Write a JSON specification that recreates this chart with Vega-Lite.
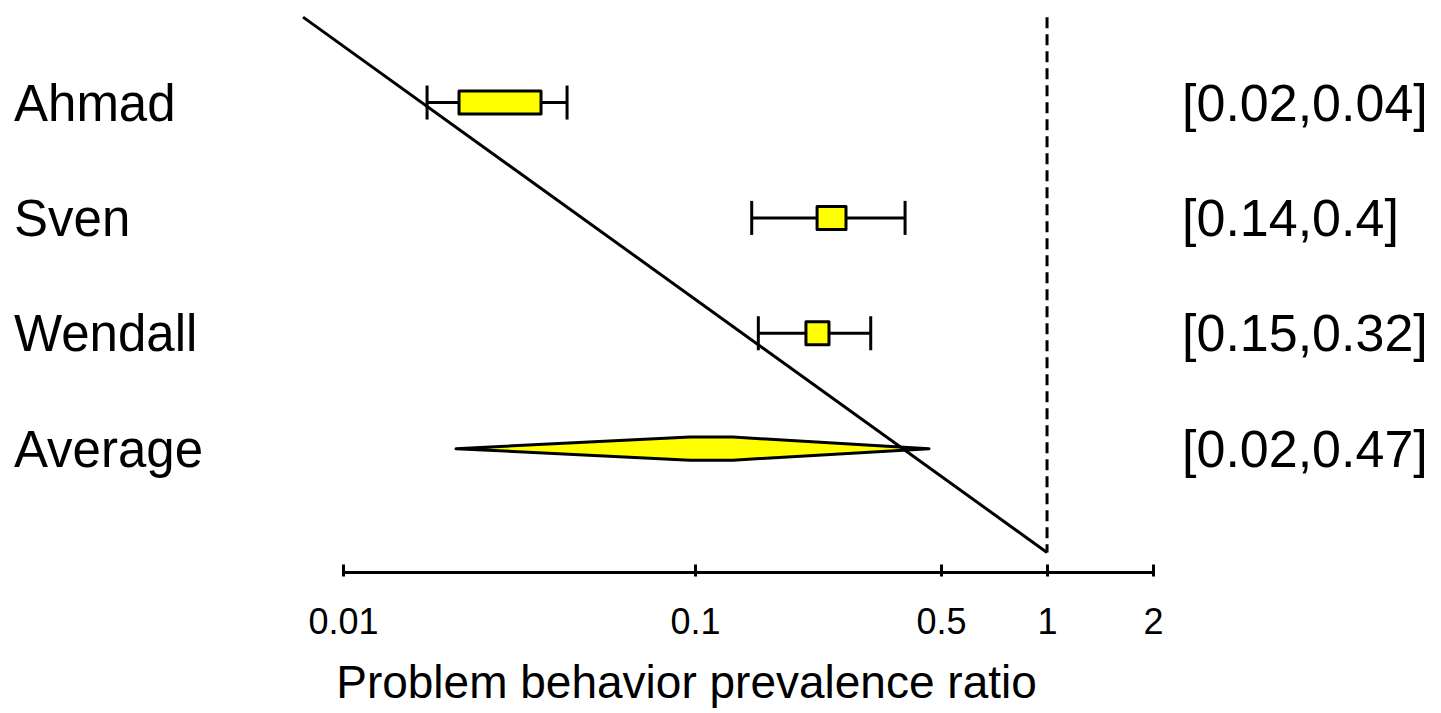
{
  "$schema": "https://vega.github.io/schema/vega-lite/v6.json",
  "width": 810,
  "height": 558,
  "autosize": {"type": "none"},
  "padding": {"left": 343, "top": 11, "right": 288, "bottom": 144},
  "background": "white",
  "config": {"view": {"stroke": null}, "font": "Liberation Sans"},
  "datasets": {
    "rows": [
      {"name": "Ahmad", "row": 1, "lo": 0.01733, "hi": 0.0433, "blo": 0.02136, "bhi": 0.03652, "ci": "[0.02,0.04]"},
      {"name": "Sven", "row": 2, "lo": 0.1449, "hi": 0.3951, "blo": 0.2222, "bhi": 0.2685, "ci": "[0.14,0.4]"},
      {"name": "Wendall", "row": 3, "lo": 0.1513, "hi": 0.3156, "blo": 0.2066, "bhi": 0.2402, "ci": "[0.15,0.32]"},
      {"name": "Average", "row": 4, "lo": null, "hi": null, "blo": null, "bhi": null, "ci": "[0.02,0.47]"}
    ],
    "diamond": [
      {"x": 0.02094, "ylo": 4, "yhi": 4},
      {"x": 0.0968, "ylo": 3.9, "yhi": 4.1},
      {"x": 0.1282, "ylo": 3.9, "yhi": 4.1},
      {"x": 0.4622, "ylo": 4, "yhi": 4}
    ],
    "diagonal": [
      {"x": 0.0077, "row": 0.26},
      {"x": 1, "row": 4.9}
    ],
    "refline": [
      {"x": 1, "top": 0.26, "bottom": 4.9}
    ]
  },
  "layer": [
    {
      "data": {"name": "refline"},
      "mark": {"type": "rule", "strokeDash": [11, 6], "strokeWidth": 3, "color": "black"},
      "encoding": {
        "x": {"field": "x", "type": "quantitative", "scale": {"type": "log", "domain": [0.01, 2], "nice": false}, "axis": null},
        "y": {"field": "top", "type": "quantitative", "scale": {"domain": [0.25, 5], "reverse": true, "nice": false, "zero": false}, "axis": null},
        "y2": {"field": "bottom"}
      }
    },
    {
      "data": {"name": "rows"},
      "mark": {"type": "rule", "strokeWidth": 3, "color": "black"},
      "encoding": {
        "x": {
          "field": "lo", "type": "quantitative",
          "scale": {"type": "log", "domain": [0.01, 2], "nice": false},
          "axis": {
            "orient": "bottom",
            "values": [0.01, 0.1, 0.5, 1, 2], "format": "~g",
            "domain": true, "domainColor": "black", "domainWidth": 3.2,
            "ticks": false, "grid": false, "offset": 3,
            "labelFont": "Liberation Sans", "labelFontSize": 36, "labelColor": "black",
            "labelPadding": 33, "labelFlush": false, "labelOverlap": false,
            "title": "Problem behavior prevalence ratio",
            "titleFont": "Liberation Sans", "titleFontSize": 46, "titleFontWeight": "normal",
            "titleColor": "black", "titleBaseline": "alphabetic", "titleAlign": "center",
            "titleX": 343, "titleY": 125
          }
        },
        "x2": {"field": "hi"},
        "y": {"field": "row", "type": "quantitative", "scale": {"domain": [0.25, 5], "reverse": true, "nice": false, "zero": false}, "axis": null}
      }
    },
    {
      "data": {"name": "rows"},
      "mark": {"type": "tick", "orient": "vertical", "size": 34, "thickness": 3, "color": "black", "opacity": 1},
      "encoding": {
        "x": {
          "field": "lo", "type": "quantitative",
          "scale": {"type": "log", "domain": [0.01, 2], "nice": false},
          "axis": {
            "orient": "bottom",
            "values": [0.01, 0.1, 0.5, 1, 2], "domain": false, "labels": false,
            "ticks": true, "tickSize": 12, "tickWidth": 3, "tickColor": "black",
            "offset": -5, "grid": false, "title": null
          }
        },
        "y": {"field": "row", "type": "quantitative", "axis": null}
      }
    },
    {
      "data": {"name": "rows"},
      "mark": {"type": "tick", "orient": "vertical", "size": 34, "thickness": 3, "color": "black", "opacity": 1},
      "encoding": {
        "x": {"field": "hi", "type": "quantitative", "axis": null},
        "y": {"field": "row", "type": "quantitative", "axis": null}
      }
    },
    {
      "data": {"name": "rows"},
      "mark": {"type": "bar", "orient": "horizontal", "size": 23, "fill": "#FFFF00", "stroke": "black", "strokeWidth": 3, "strokeJoin": "round", "opacity": 1},
      "encoding": {
        "x": {"field": "blo", "type": "quantitative", "axis": null},
        "x2": {"field": "bhi"},
        "y": {"field": "row", "type": "quantitative", "axis": null}
      }
    },
    {
      "data": {"name": "diamond"},
      "mark": {"type": "area", "orient": "vertical", "fill": "#FFFF00", "stroke": "black", "strokeWidth": 3, "strokeJoin": "round", "opacity": 1, "fillOpacity": 1},
      "encoding": {
        "x": {"field": "x", "type": "quantitative", "axis": null},
        "y": {"field": "ylo", "type": "quantitative", "axis": null},
        "y2": {"field": "yhi"}
      }
    },
    {
      "data": {"name": "diagonal"},
      "mark": {"type": "line", "color": "black", "strokeWidth": 3},
      "encoding": {
        "x": {"field": "x", "type": "quantitative", "axis": null},
        "y": {"field": "row", "type": "quantitative", "axis": null}
      }
    },
    {
      "data": {"name": "rows"},
      "mark": {"type": "text", "align": "left", "baseline": "alphabetic", "dy": 18, "fontSize": 51, "font": "Liberation Sans", "color": "black"},
      "encoding": {
        "x": {"datum": 0.0011625, "type": "quantitative", "axis": null},
        "y": {"field": "row", "type": "quantitative", "axis": null},
        "text": {"field": "name"}
      }
    },
    {
      "data": {"name": "rows"},
      "mark": {"type": "text", "align": "left", "baseline": "alphabetic", "dy": 18, "fontSize": 52, "font": "Liberation Sans", "color": "black"},
      "encoding": {
        "x": {"datum": 2.418, "type": "quantitative", "axis": null},
        "y": {"field": "row", "type": "quantitative", "axis": null},
        "text": {"field": "ci"}
      }
    }
  ],
  "resolve": {"axis": {"x": "independent"}}
}
